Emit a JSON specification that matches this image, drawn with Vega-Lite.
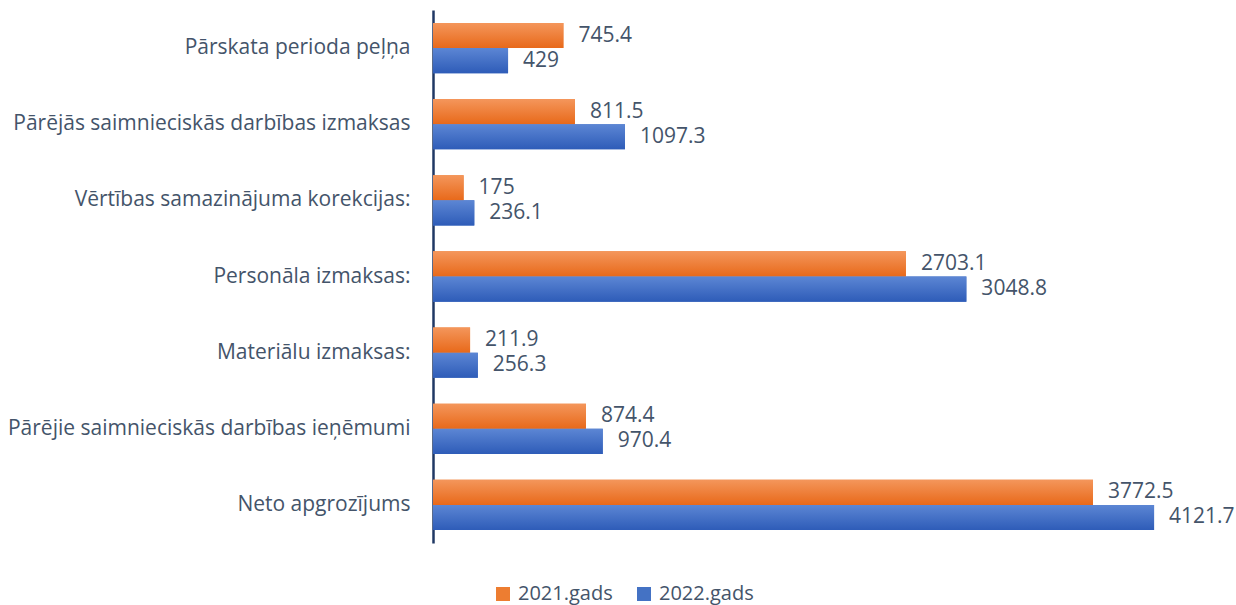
{
  "$schema": "https://vega.github.io/schema/vega-lite/v6.json",
  "width": 803,
  "height": 533,
  "autosize": {"type": "none"},
  "padding": {"left": 433, "top": 10, "right": 0, "bottom": 62},
  "background": "white",
  "config": {
    "view": {"stroke": null},
    "font": "Open Sans",
    "text": {"font": "Open Sans"}
  },
  "data": {
    "values": [
      {"category": "Pārskata perioda peļņa", "year": "2021.gads", "value": 745.4},
      {"category": "Pārskata perioda peļņa", "year": "2022.gads", "value": 429},
      {"category": "Pārējās saimnieciskās darbības izmaksas", "year": "2021.gads", "value": 811.5},
      {"category": "Pārējās saimnieciskās darbības izmaksas", "year": "2022.gads", "value": 1097.3},
      {"category": "Vērtības samazinājuma korekcijas:", "year": "2021.gads", "value": 175},
      {"category": "Vērtības samazinājuma korekcijas:", "year": "2022.gads", "value": 236.1},
      {"category": "Personāla izmaksas:", "year": "2021.gads", "value": 2703.1},
      {"category": "Personāla izmaksas:", "year": "2022.gads", "value": 3048.8},
      {"category": "Materiālu izmaksas:", "year": "2021.gads", "value": 211.9},
      {"category": "Materiālu izmaksas:", "year": "2022.gads", "value": 256.3},
      {"category": "Pārējie saimnieciskās darbības ieņēmumi", "year": "2021.gads", "value": 874.4},
      {"category": "Pārējie saimnieciskās darbības ieņēmumi", "year": "2022.gads", "value": 970.4},
      {"category": "Neto apgrozījums", "year": "2021.gads", "value": 3772.5},
      {"category": "Neto apgrozījums", "year": "2022.gads", "value": 4121.7}
    ]
  },
  "encoding": {
    "y": {
      "field": "category",
      "type": "nominal",
      "sort": null,
      "scale": {"paddingInner": 0.34, "paddingOuter": 0.17},
      "axis": {
        "title": null,
        "ticks": false,
        "labelFontSize": 21,
        "labelColor": "#44546A",
        "labelPadding": 23,
        "labelLimit": 500,
        "domainColor": "#203864",
        "domainWidth": 2.5,
        "grid": false
      }
    },
    "yOffset": {"field": "year", "type": "nominal", "sort": ["2021.gads", "2022.gads"], "scale": {"paddingInner": 0, "paddingOuter": 0}},
    "x": {
      "field": "value",
      "type": "quantitative",
      "scale": {"domain": [0, 4590], "nice": false},
      "axis": null
    }
  },
  "layer": [
    {
      "mark": {"type": "bar"},
      "encoding": {
        "color": {
          "field": "year",
          "type": "nominal",
          "scale": {"domain": ["2021.gads", "2022.gads"], "range": ["#ED7D31", "#4472C4"]},
          "legend": {
            "title": null,
            "orient": "none",
            "direction": "horizontal",
            "legendX": 60,
            "legendY": 574,
            "symbolType": "square",
            "symbolSize": 196,
            "symbolStrokeWidth": 0,
            "labelFontSize": 20,
            "labelColor": "#44546A",
            "labelOffset": 5,
            "columnPadding": 21,
            "padding": 0
          }
        }
      }
    },
    {
      "mark": {"type": "bar"},
      "encoding": {
        "fill": {
          "condition": {
            "test": "datum.year === '2021.gads'",
            "value": {"gradient": "linear", "x1": 0, "y1": 0, "x2": 0, "y2": 1, "stops": [{"offset": 0, "color": "#F4965B"}, {"offset": 1, "color": "#E8691A"}]}
          },
          "value": {"gradient": "linear", "x1": 0, "y1": 0, "x2": 0, "y2": 1, "stops": [{"offset": 0, "color": "#5C86D4"}, {"offset": 1, "color": "#2E5CB8"}]}
        }
      }
    },
    {
      "mark": {"type": "text", "align": "left", "baseline": "middle", "dx": 15, "fontSize": 21, "color": "#44546A"},
      "encoding": {
        "text": {"field": "value", "type": "quantitative"}
      }
    }
  ]
}
